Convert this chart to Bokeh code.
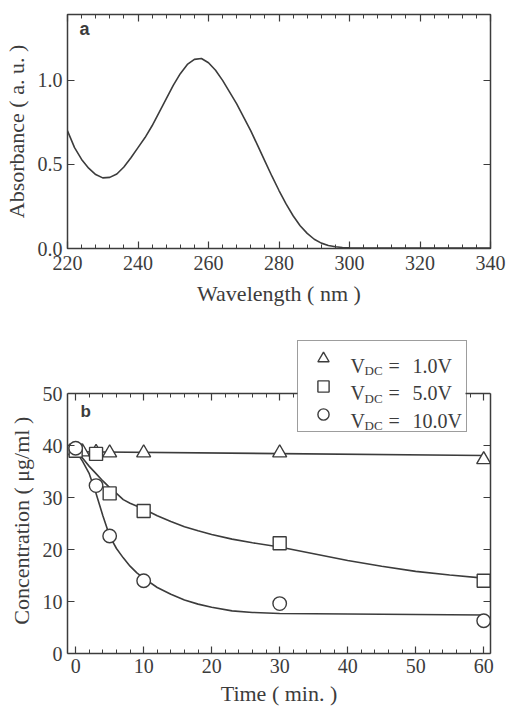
from bokeh.plotting import figure
from bokeh.layouts import column
from bokeh.models import (Range1d, LinearAxis, SingleIntervalTicker, FixedTicker,
                          Label, Legend, LegendItem, CustomJSTickFormatter,
                          PrintfTickFormatter, BoxAnnotation)
from bokeh.embed import file_html
from bokeh.resources import INLINE

# ---- panel a: UV absorption spectrum ----
wavelength = [220, 222, 224, 226, 228, 230, 232, 234, 236, 238,
              240, 242, 244, 246, 248, 250, 252, 254, 256, 258,
              260, 262, 264, 266, 268, 270, 272, 274, 276, 278,
              280, 282, 284, 286, 288, 290, 292, 294, 296, 298,
              300, 305, 310, 315, 320, 325, 330, 335, 340]
absorbance = [0.70, 0.60, 0.53, 0.478, 0.44, 0.42, 0.423, 0.443, 0.485, 0.54,
              0.60, 0.66, 0.73, 0.81, 0.89, 0.97, 1.04, 1.095, 1.125, 1.13,
              1.105, 1.06, 1.00, 0.93, 0.86, 0.78, 0.70, 0.61, 0.52, 0.43,
              0.345, 0.265, 0.195, 0.135, 0.09, 0.055, 0.032, 0.018, 0.010, 0.006,
              0.004, 0.003, 0.002, 0.002, 0.002, 0.002, 0.002, 0.002, 0.002]
abs_ticks = [0.0, 0.5, 1.0]

# ---- panel b: concentration vs time at three DC voltages ----
time_1v = [0, 1, 3, 5, 10, 30, 60]
conc_1v = [39.0, 38.8, 38.7, 38.6, 38.6, 38.6, 37.3]
time_5v = [0, 3, 5, 10, 30, 60]
conc_5v = [39.0, 38.4, 30.8, 27.4, 21.2, 14.0]
time_10v = [0, 3, 5, 10, 30, 60]
conc_10v = [39.5, 32.3, 22.6, 14.0, 9.6, 6.3]

# fitted trend curves
fit_t_1v = [0, 60]
fit_c_1v = [38.8, 38.1]
fit_t_5v = [0, 1, 2, 3, 4, 5, 6, 7, 8, 10, 12, 14, 16, 18, 20, 23, 26, 30,
            35, 40, 45, 50, 55, 60]
fit_c_5v = [39.0, 37.6, 36.0, 34.6, 33.2, 31.9, 30.8, 29.6, 28.9, 27.8, 26.5, 25.4,
            24.4, 23.6, 22.9, 22.0, 21.3, 20.5, 19.2, 17.9, 16.8, 15.8, 15.1, 14.5]
fit_t_10v = [0, 1, 2, 3, 4, 5, 6, 7, 8, 9, 10, 12, 14, 16, 18, 20, 23, 26, 30,
             40, 50, 60]
fit_c_10v = [39.0, 37.0, 34.6, 30.8, 26.5, 22.6, 20.2, 18.4, 16.8, 15.5, 14.5, 12.7,
             11.4, 10.3, 9.5, 8.9, 8.2, 7.9, 7.7, 7.6, 7.5, 7.4]

legend_values = ["1.0V", "5.0V", "10.0V"]

INK = "#3c3c3c"
SERIF = "Liberation Serif"
SANS = "Liberation Sans"
NBSP = "\u00a0"


def style_axis(ax, labels=True):
    ax.axis_line_color = None
    ax.major_tick_in = 7
    ax.major_tick_out = 0
    ax.minor_tick_in = 4
    ax.minor_tick_out = 0
    ax.major_tick_line_color = INK
    ax.minor_tick_line_color = INK
    ax.major_tick_line_width = 1.2
    ax.minor_tick_line_width = 1.0
    ax.major_label_text_font = SERIF
    ax.major_label_text_font_size = "20px"
    ax.major_label_text_color = INK
    ax.axis_label_text_font = SERIF
    ax.axis_label_text_font_size = "22px"
    ax.axis_label_text_font_style = "normal"
    ax.axis_label_text_color = INK
    if not labels:
        ax.formatter = CustomJSTickFormatter(code="return ''")
        ax.major_label_standoff = 0


# ---------------- panel a ----------------
pa = figure(width=506, height=320, x_range=Range1d(220, 340), y_range=Range1d(0, 1.392),
            output_backend="svg", toolbar_location=None,
            min_border_left=67, min_border_right=16, min_border_top=14, min_border_bottom=72)
pa.outline_line_color = INK
pa.outline_line_width = 1.5
pa.xgrid.visible = False
pa.ygrid.visible = False
wl_ticker = SingleIntervalTicker(interval=20, num_minor_ticks=5)
abs_ticker = FixedTicker(ticks=abs_ticks, minor_ticks=[])
xa = pa.below[0]
ya = pa.left[0]
xa.ticker = wl_ticker
ya.ticker = abs_ticker
style_axis(xa)
style_axis(ya)
ya.formatter = PrintfTickFormatter(format="%.1f")
top_a = LinearAxis(ticker=wl_ticker)
right_a = LinearAxis(ticker=abs_ticker)
style_axis(top_a, labels=False)
style_axis(right_a, labels=False)
pa.add_layout(top_a, "above")
pa.add_layout(right_a, "right")
xa.axis_label = "Wavelength ( nm )"
ya.axis_label = "Absorbance ( a. u. )"
xa.major_label_standoff = 7
ya.major_label_standoff = 5
xa.axis_label_standoff = 8
ya.axis_label_standoff = 6
pa.line(wavelength, absorbance, line_color=INK, line_width=1.6)
pa.add_layout(Label(x=12, y=210, x_units="screen", y_units="screen", text="a",
                    text_font=SANS, text_font_style="bold", text_font_size="18px",
                    text_color=INK))

# ---------------- panel b ----------------
# the data area is 0..50; the strip above it holds the key box
conc_top = 50
pb = figure(width=506, height=391, x_range=Range1d(-1.2, 61), y_range=Range1d(0, 60.6),
            output_backend="svg", toolbar_location=None,
            min_border_left=67, min_border_right=16, min_border_top=18, min_border_bottom=58)
pb.outline_line_color = None
pb.xgrid.visible = False
pb.ygrid.visible = False
t_ticker = SingleIntervalTicker(interval=10, num_minor_ticks=5)
c_ticker = SingleIntervalTicker(interval=10, num_minor_ticks=0)
xb = pb.below[0]
yb = pb.left[0]
xb.ticker = t_ticker
yb.ticker = c_ticker
style_axis(xb)
style_axis(yb)
top_b = LinearAxis(ticker=t_ticker, fixed_location=conc_top)
right_b = LinearAxis(ticker=c_ticker)
style_axis(top_b, labels=False)
style_axis(right_b, labels=False)
pb.add_layout(top_b, "above")
pb.add_layout(right_b, "right")
for ax in (yb, right_b):
    ax.bounds = (0, conc_top)
for ax in (xb, yb, top_b, right_b):
    ax.axis_line_color = INK
    ax.axis_line_width = 1.5
xb.axis_label = "Time ( min. )"
# trailing no-break spaces keep the title centred on the 0..50 part of the axis
yb.axis_label = "Concentration ( \u03bcg/ml )" + NBSP * 9
xb.major_label_standoff = 5
yb.major_label_standoff = 5
xb.axis_label_standoff = 5
yb.axis_label_standoff = 6

for tx, cy in [(fit_t_1v, fit_c_1v), (fit_t_5v, fit_c_5v), (fit_t_10v, fit_c_10v)]:
    pb.line(tx, cy, line_color=INK, line_width=1.6)

mk = dict(fill_color="white", line_color=INK, line_width=1.4)
r_tri = pb.scatter(time_1v, conc_1v, marker="triangle", size=14, **mk)
r_sq = pb.scatter(time_5v, conc_5v, marker="square", size=13, **mk)
r_circ = pb.scatter(time_10v, conc_10v, marker="circle", size=13.5, **mk)

# white backing for the key (hides the top frame line behind it)
pb.add_layout(BoxAnnotation(left=230, right=398, bottom=221, top=311,
                            left_units="screen", right_units="screen",
                            bottom_units="screen", top_units="screen",
                            fill_color="white", fill_alpha=1.0, line_color=None))

legend = Legend(items=[LegendItem(label=" ", renderers=[r]) for r in (r_tri, r_sq, r_circ)],
                location=(230, 221), orientation="vertical", padding=3, margin=0,
                spacing=0, glyph_width=44, glyph_height=28, label_width=118,
                label_height=20, label_standoff=0, label_text_font_size="2px",
                border_line_color=INK, border_line_width=1.5,
                background_fill_alpha=0.0)
pb.add_layout(legend)

row_base = [288, 260.5, 233]
for ybase, val in zip(row_base, legend_values):
    common = dict(x_units="screen", y_units="screen", text_font=SERIF,
                  text_color=INK, text_baseline="alphabetic", level="overlay")
    pb.add_layout(Label(x=283, y=ybase, text="V", text_font_size="20px", **common))
    pb.add_layout(Label(x=297, y=ybase - 5, text="DC", text_font_size="13px", **common))
    pb.add_layout(Label(x=321, y=ybase, text="=", text_font_size="20px", **common))
    pb.add_layout(Label(x=345, y=ybase, text=val, text_font_size="20px", **common))

pb.add_layout(Label(x=13, y=232.5, x_units="screen", y_units="screen", text="b",
                    text_font=SANS, text_font_style="bold", text_font_size="17px",
                    text_color=INK))

page = column(pa, pb, spacing=0)
open("out.html", "w").write(file_html(page, INLINE))
